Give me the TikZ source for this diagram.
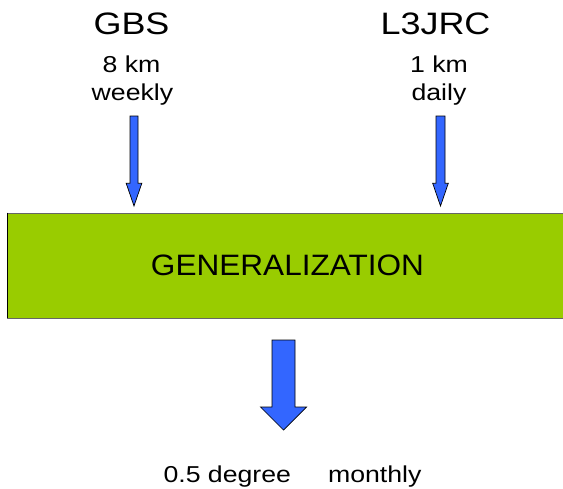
\documentclass[tikz,border=0pt]{standalone}
\usepackage{fontspec}
\setmainfont{Liberation Sans}
\newfontfamily\widefont[FakeStretch=1.16]{Liberation Sans}
\newfontfamily\boxfont[FakeStretch=1.07]{Liberation Sans}
\definecolor{boxgreen}{HTML}{99CC00}
\definecolor{arrowblue}{HTML}{3366FF}
% x, top, head start, tip, shaft half width, head half width
\newcommand\myblockarrow[6]{%
  \draw[arrowshape] (#1-#5,#2) -- (#1+#5,#2) -- (#1+#5,#3) -- (#1+#6,#3)
    -- (#1,#4) -- (#1-#6,#3) -- (#1-#5,#3) -- cycle;}
\begin{document}
\begin{tikzpicture}[x=1pt,y=-1pt,
  bigtxt/.style={inner sep=0pt, anchor=base, font=\widefont\fontsize{31}{31}\selectfont},
  smalltxt/.style={inner sep=0pt, anchor=base, font=\widefont\fontsize{23}{23}\selectfont},
  genbox/.style={draw=black!60, line width=0.9pt, fill=boxgreen, minimum width=560pt,
    minimum height=105pt, inner sep=0pt, font=\boxfont\fontsize{29.5}{29.5}\selectfont},
  arrowshape/.style={draw=black, line width=0.7pt, fill=arrowblue, line join=miter}]
\useasboundingbox (0,0) rectangle (563,488);
\node[bigtxt] (gbs) at (131.5,34.5) {GBS};
\node[smalltxt] (gbsres) at (131.5,72) {8 km};
\node[smalltxt] (gbsfreq) at (132.5,100) {weekly};
\node[bigtxt] (l3) at (435.5,34.5) {L3JRC};
\node[smalltxt] (l3res) at (439,72) {1 km};
\node[smalltxt] (l3freq) at (439,100) {daily};
\node[genbox] (gen) at (287.5,265.5) {GENERALIZATION};
\draw[black, line width=1pt] (gen.north west) -- (gen.south west);
\myblockarrow{134}{116}{183.3}{206}{4}{7.8}
\myblockarrow{440.5}{116}{183.3}{206}{4.5}{7.8}
\myblockarrow{283.5}{340}{407}{430}{11.5}{23}
\node[smalltxt] (out) at (292.5,482.7) {0.5 degree\hspace{37pt}monthly};
\end{tikzpicture}
\end{document}
